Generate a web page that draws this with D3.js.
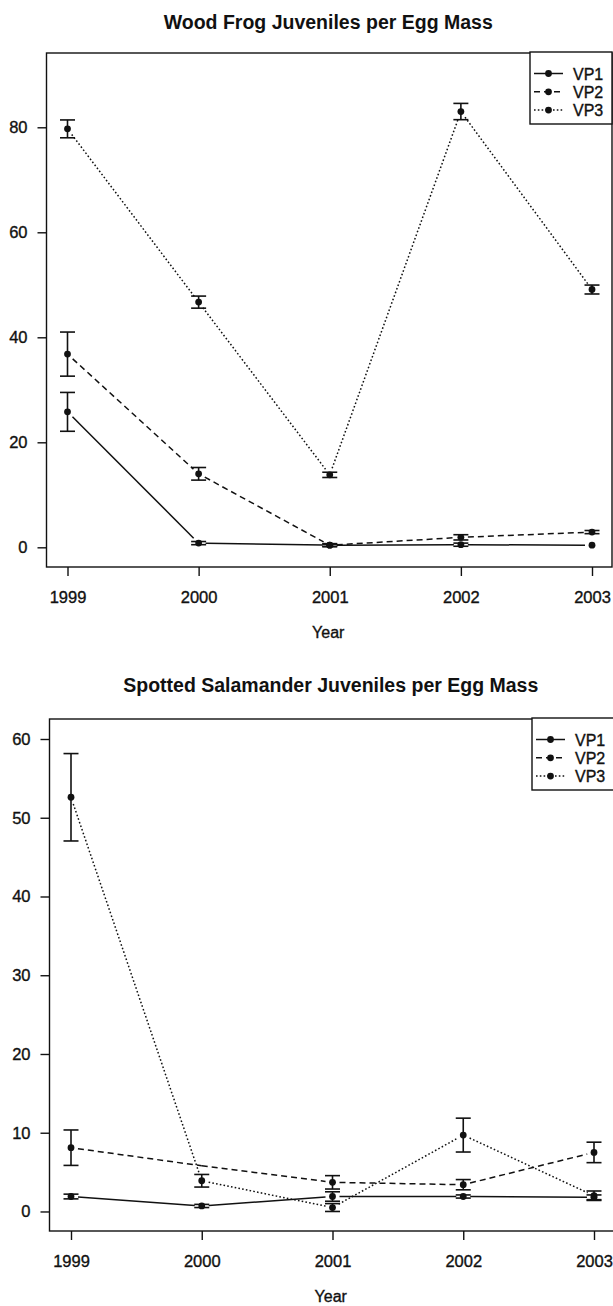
<!DOCTYPE html>
<html>
<head>
<meta charset="utf-8">
<script src="https://cdn.jsdelivr.net/npm/d3@7"></script>
<style>
	html, body { margin: 0; padding: 0; background: #fff; }
	svg { display: block; }
</style>
</head>
<body>
<div id="chart"></div>
<script>
const YEARS = [1999, 2000, 2001, 2002, 2003]
const SERIES = ['VP1', 'VP2', 'VP3']

// wood frog: means and half-width of the error bars
const frogVP1 = [25.8, 0.8, 0.4, 0.5, 0.4]
const frogVP1Err = [3.7, 0.3, 0.2, 0.3, 0]
const frogVP2 = [36.8, 14.0, 0.4, 1.9, 2.9]
const frogVP2Err = [4.2, 1.2, 0.3, 0.5, 0.3]
const frogVP3 = [79.7, 46.7, 13.8, 83.0, 49.1]
const frogVP3Err = [1.7, 1.15, 0.5, 1.55, 0.85]
const FROG_TICKS = [0, 20, 40, 60, 80]

// spotted salamander (null error = no marker drawn in the original)
const salVP1 = [1.9, 0.7, 1.9, 1.9, 1.8]
const salVP1Err = [0.3, 0.2, 0.6, 0.2, 0.3]
const salVP2 = [8.1, 5.8, 3.7, 3.4, 7.5]
const salVP2Err = [2.25, null, 0.85, 0.65, 1.3]
const salVP3 = [52.6, 3.9, 0.5, 9.7, 2.0]
const salVP3Err = [5.55, 0.8, 0.5, 2.15, 0.6]
const SAL_TICKS = [0, 10, 20, 30, 40, 50, 60]

const FONT = "'Liberation Sans', Arial, Helvetica, sans-serif"
const DASH = { VP1: null, VP2: '6,4', VP3: '1.6,2.2' }
const INK = '#111'

const width = 613
const height = 1306

const svg = d3.select('#chart')
	.append('svg')
	.attr('width', width)
	.attr('height', height)
	.attr('viewBox', `0 0 ${width} ${height}`)
	.style('font-family', FONT)

// the scan makes regular text look a little heavy
function heavy(sel) {
	return sel.attr('stroke', INK).attr('stroke-width', 0.35).attr('fill', INK)
}

function drawPanel(cfg) {
	const x = d3.scaleLinear().domain([1999, 2003]).range([cfg.x0, cfg.x1])
	const y = d3.scaleLinear().domain(cfg.yDomain).range([cfg.bottom, cfg.top])

	const g = svg.append('g')

	svg.append('text')
		.attr('x', (cfg.left + cfg.right) / 2 - 1)
		.attr('y', cfg.titleY)
		.attr('text-anchor', 'middle')
		.attr('font-weight', 'bold')
		.attr('fill', INK)
		.style('font-size', '19.5px')
		.text(cfg.title)

	// box
	g.append('rect')
		.attr('x', cfg.left)
		.attr('y', cfg.top)
		.attr('width', cfg.right - cfg.left)
		.attr('height', cfg.bottom - cfg.top)
		.attr('fill', 'none')
		.attr('stroke', INK)
		.attr('stroke-width', 1.4)

	const yAxis = g.append('g')
		.attr('transform', `translate(${cfg.left},0)`)
		.call(d3.axisLeft(y).tickValues(cfg.ticks).tickSize(9).tickPadding(10).tickFormat(d3.format('d')))
	yAxis.select('.domain').remove()

	const xAxis = g.append('g')
		.attr('transform', `translate(0,${cfg.bottom})`)
		.call(d3.axisBottom(x).tickValues(YEARS).tickSize(9).tickPadding(15).tickFormat(d3.format('d')))
	xAxis.select('.domain').remove()

	g.selectAll('.tick line').attr('stroke', INK).attr('stroke-width', 1.4)
	heavy(g.selectAll('.tick text'))
		.style('font-size', '16.5px')
		.style('font-family', FONT)

	heavy(svg.append('text'))
		.attr('x', (cfg.left + cfg.right) / 2 - 1)
		.attr('y', cfg.bottom + 71)
		.attr('text-anchor', 'middle')
		.style('font-size', '16px')
		.text('Year')

	const gap = 7
	const seg = d3.line()

	cfg.series.forEach((s) => {
		const pts = YEARS.map((yr, i) => ({
			px: x(yr),
			py: y(s.values[i]),
			value: s.values[i],
			err: s.err[i],
			marker: s.err[i] !== null
		}))

		// line segments, stopped short of each marker like R's type = "b"
		for (let i = 0; i < pts.length - 1; i++) {
			const a = pts[i]
			const b = pts[i + 1]
			const dx = b.px - a.px
			const dy = b.py - a.py
			const len = Math.hypot(dx, dy)
			const ux = dx / len
			const uy = dy / len
			const ga = a.marker ? gap : 0
			const gb = b.marker ? gap : 0
			g.append('path')
				.attr('d', seg([[a.px + ux * ga, a.py + uy * ga], [b.px - ux * gb, b.py - uy * gb]]))
				.attr('fill', 'none')
				.attr('stroke', INK)
				.attr('stroke-width', 1.5)
				.attr('stroke-dasharray', DASH[s.name])
		}

		const marked = pts.filter((p) => p.marker)

		const bars = g.append('g').attr('stroke', INK).attr('stroke-width', 1.6)
		marked.filter((p) => p.err > 0).forEach((p) => {
			const hi = y(p.value + p.err)
			const lo = y(p.value - p.err)
			bars.append('line').attr('x1', p.px).attr('x2', p.px).attr('y1', hi).attr('y2', lo)
			bars.append('line').attr('x1', p.px - 7.5).attr('x2', p.px + 7.5).attr('y1', hi).attr('y2', hi)
			bars.append('line').attr('x1', p.px - 7.5).attr('x2', p.px + 7.5).attr('y1', lo).attr('y2', lo)
		})

		g.append('g')
			.selectAll('circle')
			.data(marked)
			.join('circle')
			.attr('cx', (d) => d.px)
			.attr('cy', (d) => d.py)
			.attr('r', 3.4)
			.attr('fill', INK)
	})

	// legend in the top right corner
	const legend = g.append('g').attr('transform', `translate(${cfg.legendX},${cfg.top})`)
	legend.append('rect')
		.attr('x', 0)
		.attr('y', -1)
		.attr('width', cfg.right - cfg.legendX)
		.attr('height', 72)
		.attr('fill', '#fff')
		.attr('stroke', INK)
		.attr('stroke-width', 1.4)

	const item = legend.selectAll('.item')
		.data(SERIES)
		.join('g')
		.attr('class', 'item')
		.attr('transform', (_, i) => `translate(0,${20.5 + i * 18.3})`)

	item.append('line')
		.attr('x1', 4)
		.attr('x2', 33)
		.attr('stroke', INK)
		.attr('stroke-width', 1.5)
		.attr('stroke-dasharray', (d) => DASH[d])
	item.append('circle').attr('cx', 18.5).attr('r', 3.4).attr('fill', INK)
	heavy(item.append('text'))
		.attr('x', 43)
		.attr('y', 6)
		.style('font-size', '16px')
		.text((d) => d)
}

drawPanel({
	title: 'Wood Frog Juveniles per Egg Mass',
	titleY: 29,
	left: 46.5,
	right: 612,
	top: 53,
	bottom: 567,
	x0: 67.5,
	x1: 592,
	yDomain: [-3.75, 94.15],
	ticks: FROG_TICKS,
	legendX: 530,
	series: [
		{ name: 'VP1', values: frogVP1, err: frogVP1Err },
		{ name: 'VP2', values: frogVP2, err: frogVP2Err },
		{ name: 'VP3', values: frogVP3, err: frogVP3Err }
	]
})

drawPanel({
	title: 'Spotted Salamander Juveniles per Egg Mass',
	titleY: 692,
	left: 49.5,
	right: 614,
	top: 719,
	bottom: 1231,
	x0: 71,
	x1: 594,
	yDomain: [-2.48, 62.54],
	ticks: SAL_TICKS,
	legendX: 532,
	series: [
		{ name: 'VP1', values: salVP1, err: salVP1Err },
		{ name: 'VP2', values: salVP2, err: salVP2Err },
		{ name: 'VP3', values: salVP3, err: salVP3Err }
	]
})
</script>
</body>
</html>
